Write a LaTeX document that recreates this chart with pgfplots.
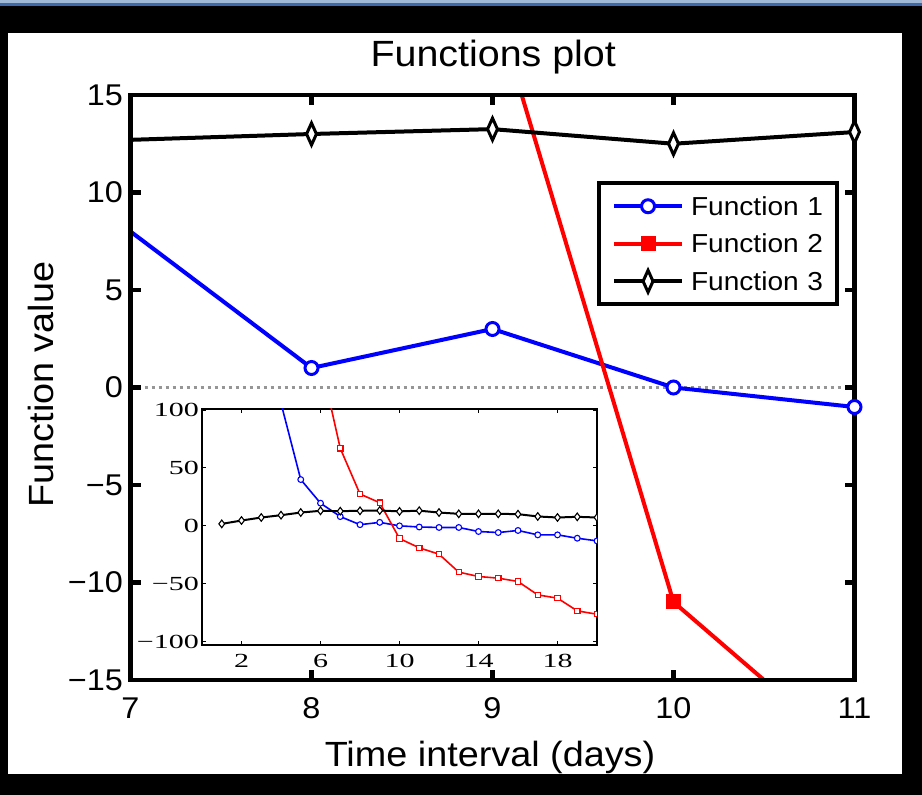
\documentclass[border=0pt]{standalone}
\usepackage{pgfplots}
\pgfplotsset{compat=1.18}
\usepackage{pgfplotstable}
\usepackage{fontspec}
\setmainfont{Liberation Sans}[FakeStretch=1.08]
\newfontfamily\serifticks{Liberation Serif}[FakeStretch=1.5]

\definecolor{fnblue}{RGB}{0,0,255}
\definecolor{fnred}{RGB}{255,0,0}
\definecolor{zerogray}{RGB}{150,150,150}
\definecolor{barblue}{RGB}{62,104,168}
\definecolor{barlight}{RGB}{160,185,215}

% Function values per time step (days)
\pgfplotstableread{
x y
4 106
5 40
6 19.6
7 8
8 1
9 3
10 0
11 -1
12 -1.4
13 -1.4
14 -4.9
15 -5.8
16 -4
17 -7.8
18 -7.8
19 -10.7
20 -13
}\funA
\pgfplotstableread{
x y
6 143
7 67
8 27.5
9 20
10 -11
11 -19
12 -24.5
13 -40
14 -43.8
15 -45.2
16 -48.1
17 -59.7
18 -62.5
19 -73.5
20 -76.4
}\funB
\pgfplotstableread{
x y
1 1.7
2 4.6
3 7.2
4 9.2
5 11.5
6 13
7 12.7
8 13
9 13.25
10 12.5
11 13.1
12 11.5
13 10.4
14 10.4
15 10.4
16 10.1
17 8.1
18 7.2
19 7.8
20 7.2
}\funC

\newcommand{\titlefont}{\fontsize{36.5bp}{44bp}\selectfont}
\newcommand{\labelfont}{\fontsize{35bp}{42bp}\selectfont}
\newcommand{\tickfont}{\fontsize{30bp}{36bp}\selectfont}

\begin{document}
\begin{tikzpicture}
% window frame
\fill[black] (0,0) rectangle (922bp,795bp);
\fill[white] (8bp,21bp) rectangle (902bp,762bp);
\fill[barlight] (0,792bp) rectangle (922bp,795bp);
\fill[barblue] (0,789bp) rectangle (922bp,792bp);

% main axis: days 7 to 11 (markers from day 8 on)
\begin{axis}[
  at={(130.5bp,115bp)}, anchor=south west,
  scale only axis, width=724bp, height=585bp,
  xmin=7, xmax=11, ymin=-15, ymax=15,
  xtick={7,8,9,10,11}, xticklabels={7,8,9,10,11},
  ytick={-15,-10,-5,0,5,10,15}, yticklabels={−15,−10,−5,0,5,10,15},
  tick align=inside, major tick length=10bp,
  every tick/.style={black, line width=4.5bp},
  axis line style={line width=4.5bp, line cap=rect},
  axis on top,
  xticklabel style={font=\tickfont, anchor=base, inner sep=0pt, yshift=-39bp},
  yticklabel style={font=\tickfont, anchor=east, inner sep=0pt, xshift=-7.5bp},
  title={Functions plot},
  title style={font=\titlefont, at={(axis description cs:0.501,1.0381)}, anchor=base},
  xlabel={Time interval (days)},
  xlabel style={font=\labelfont, at={(axis description cs:0.4966,-0.1482)}, anchor=base},
  ylabel={Function value},
  ylabel style={font=\labelfont, at={(axis description cs:-0.1066,0.505)}, anchor=base},
  legend style={at={(0.979,0.853)}, anchor=north east, draw=black, line width=4.5bp, fill=white,
    inner xsep=13bp, inner ysep=12bp, row sep=15.5bp, column sep=7bp,
    font=\fontsize{26bp}{31bp}\selectfont,
    nodes={inner sep=0pt, text height=20bp, text depth=2bp, text width=133bp, align=left}},
  legend image code/.code={\draw[mark repeat=2,mark phase=2] plot coordinates {(0bp,0bp) (34bp,0bp) (68bp,0bp)};},
]
\addplot[zerogray, line width=3bp, dash pattern=on 3bp off 4bp, forget plot] coordinates {(7,0) (11,0)};
\addplot[fnblue, line width=4bp, mark=*, mark size=6.5bp, mark phase=2, mark repeat=1,
  mark options={line width=3bp, fill=white, draw=fnblue}, restrict x to domain=7:11] table {\funA};
\addlegendentry{Function 1}
\addplot[fnred, line width=4bp, mark=square*, mark size=7bp,
  mark options={line width=1bp, fill=fnred}, restrict x to domain=7:11] table {\funB};
\addlegendentry{Function 2}
\addplot[black, line width=4bp, mark=diamond*, mark size=11bp, mark phase=2, mark repeat=1,
  mark options={xscale=0.6, line width=3bp, fill=white}, restrict x to domain=7:11] table {\funC};
\addlegendentry{Function 3}
\end{axis}

% inset: full range of days
\begin{axis}[
  at={(202bp,150bp)}, anchor=south west,
  scale only axis, width=395bp, height=236bp,
  xmin=0, xmax=20, ymin=-103, ymax=101,
  xtick={2,6,10,14,18}, xticklabels={2,6,10,14,18},
  ytick={-100,-50,0,50,100}, yticklabels={−100,−50,0,50,100},
  tick align=inside, major tick length=4bp,
  every tick/.style={black, line width=1bp},
  axis line style={line width=1.4bp},
  axis background/.style={fill=white},
  clip marker paths=true,
  ticklabel style={font=\serifticks\fontsize{20bp}{24bp}\selectfont, inner sep=0pt},
  xticklabel style={anchor=base, yshift=-23bp},
  yticklabel style={anchor=east, xshift=-3bp},
]
\addplot[fnblue, line width=1.6bp, mark=*, mark size=2.9bp,
  mark options={line width=1.1bp, fill=white, draw=fnblue}] table {\funA};
\addplot[fnred, line width=1.6bp, mark=square*, mark size=2.7bp,
  mark options={line width=1.1bp, fill=white, draw=fnred}] table {\funB};
\addplot[black, line width=2bp, mark=diamond*, mark size=3.8bp,
  mark options={line width=1.1bp, fill=white}] table {\funC};
\end{axis}

\pgfresetboundingbox
\useasboundingbox (0,0) rectangle (922bp,795bp);
\end{tikzpicture}
\end{document}
